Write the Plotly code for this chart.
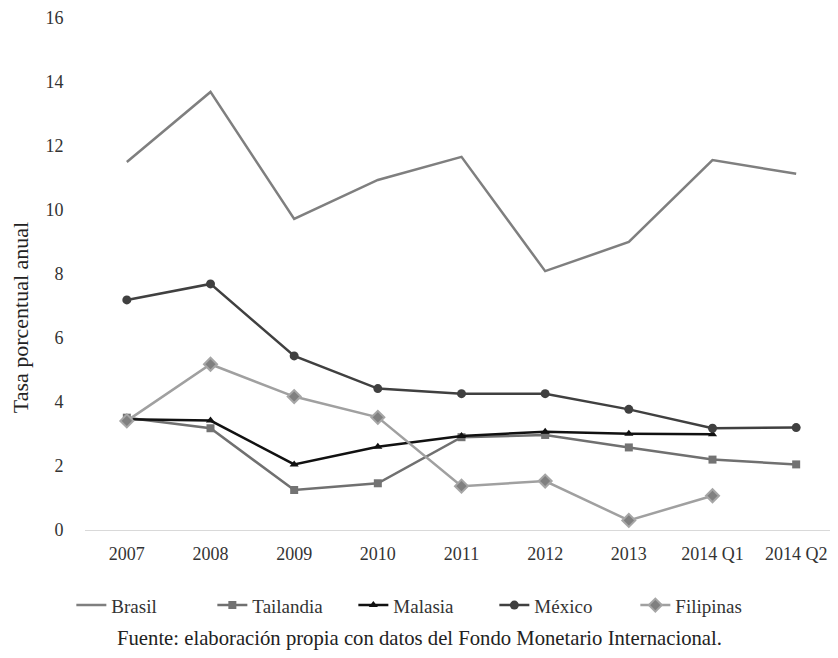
import plotly.graph_objects as go

categorias = ["2007", "2008", "2009", "2010", "2011", "2012", "2013", "2014 Q1", "2014 Q2"]
brasil = [11.5, 13.69, 9.72, 10.94, 11.66, 8.09, 9.0, 11.56, 11.13]
tailandia = [3.51, 3.18, 1.25, 1.46, 2.9, 2.97, 2.58, 2.2, 2.05]
malasia = [3.46, 3.42, 2.05, 2.6, 2.94, 3.07, 3.01, 2.99, None]
mexico = [7.19, 7.69, 5.44, 4.42, 4.26, 4.26, 3.77, 3.18, 3.2]
filipinas = [3.41, 5.18, 4.17, 3.52, 1.37, 1.53, 0.3, 1.07, None]
y_ticks = [0, 2, 4, 6, 8, 10, 12, 14, 16]

FONT = "Liberation Serif, Times New Roman, serif"

fig = go.Figure()
fig.add_trace(go.Scatter(x=categorias, y=brasil, name="Brasil", mode="lines",
                         line=dict(color="#7f7f7f", width=2.5)))
fig.add_trace(go.Scatter(x=categorias, y=tailandia, name="Tailandia", mode="lines+markers",
                         line=dict(color="#707070", width=2.5),
                         marker=dict(symbol="square", size=8, color="#737373")))
fig.add_trace(go.Scatter(x=categorias, y=malasia, name="Malasia", mode="lines+markers",
                         line=dict(color="#111111", width=2.5),
                         marker=dict(symbol="triangle-up", size=8, color="#111111")))
fig.add_trace(go.Scatter(x=categorias, y=mexico, name="México", mode="lines+markers",
                         line=dict(color="#404040", width=2.5),
                         marker=dict(symbol="circle", size=9, color="#404040")))
fig.add_trace(go.Scatter(x=categorias, y=filipinas, name="Filipinas", mode="lines+markers",
                         line=dict(color="#a0a0a0", width=2.5),
                         marker=dict(symbol="diamond", size=10, color="#808080",
                                     line=dict(color="#a6a6a6", width=2))))

fig.update_layout(
    width=830, height=650,
    margin=dict(l=77, r=0, t=10, b=128),
    paper_bgcolor="white", plot_bgcolor="white",
    font=dict(family=FONT, color="#333333", size=18),
    showlegend=True,
    legend=dict(orientation="h", x=0.45, xanchor="center", y=-0.147, yanchor="middle",
                font=dict(family=FONT, size=19, color="#333333"), itemwidth=30,
                entrywidth=96, tracegroupgap=0),
    annotations=[
        dict(text="Fuente: elaboración propia con datos del Fondo Monetario Internacional.",
             xref="paper", yref="paper", x=0.444, y=-0.211, xanchor="center", yanchor="middle",
             showarrow=False, font=dict(family=FONT, size=20.7, color="#222222")),
        dict(text="Tasa porcentual anual", xref="paper", yref="paper",
             x=-0.086, y=0.414, xanchor="center", yanchor="middle", textangle=-90,
             showarrow=False, font=dict(family=FONT, size=22, color="#222222")),
    ],
)
fig.update_xaxes(type="category", range=[-0.5, 8.5], showgrid=False, showline=True,
                 linecolor="#d9d9d9", linewidth=1, ticks="", automargin=False,
                 ticklabelstandoff=7,
                 tickfont=dict(family=FONT, size=18, color="#333333"))
fig.update_yaxes(range=[0, 16], tickvals=y_ticks, showgrid=False, zeroline=False,
                 showline=False, ticks="outside", ticklen=17, tickcolor="rgba(0,0,0,0)",
                 automargin=False,
                 tickfont=dict(family=FONT, size=18, color="#333333"))

fig.write_html("out.html")
